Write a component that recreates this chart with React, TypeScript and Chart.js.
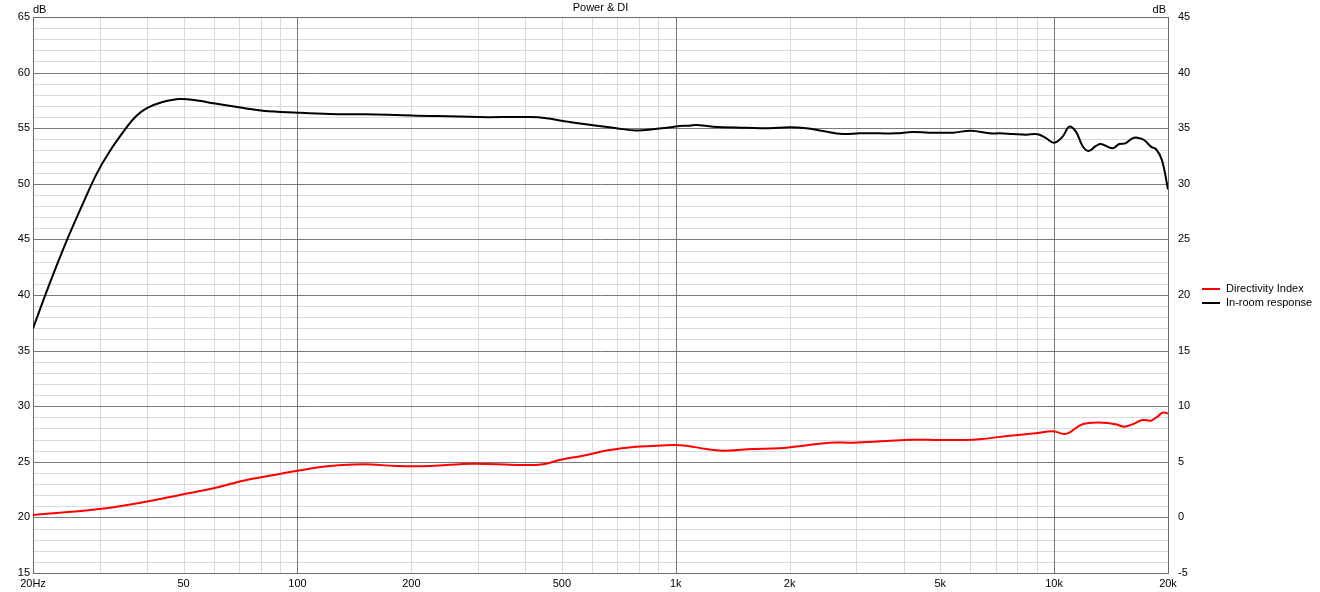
import React, { useEffect, useRef } from 'react';
import { Chart, registerables } from 'chart.js';

Chart.register(...registerables);

// In-room response (left axis, dB)
const irFreq = [20, 22, 24.6, 27, 29.5, 32, 35.4, 37.5, 40, 44, 48.9, 55, 60, 70, 81, 100, 122, 150, 200, 300, 411, 455, 503, 592, 696, 786, 870, 982, 1023, 1088, 1132, 1254, 1535, 1768, 1998, 2211, 2446, 2762, 3058, 3454, 3822, 4228, 4678, 5394, 6032, 6744, 7196, 7768, 8430, 9040, 9520, 10000, 10530, 10970, 11420, 11890, 12330, 12900, 13300, 14270, 14860, 15420, 16110, 16610, 17300, 18020, 18580, 19270, 20000];
const irVal = [37.0, 40.8, 44.95, 48.1, 50.94, 53.0, 55.1, 56.1, 56.8, 57.35, 57.63, 57.47, 57.24, 56.88, 56.58, 56.4, 56.28, 56.25, 56.15, 56.0, 56.0, 55.9, 55.65, 55.3, 55.0, 54.8, 54.9, 55.1, 55.2, 55.22, 55.29, 55.14, 55.05, 55.0, 55.08, 55.0, 54.75, 54.48, 54.54, 54.54, 54.54, 54.66, 54.6, 54.6, 54.78, 54.54, 54.54, 54.48, 54.42, 54.45, 54.1, 53.7, 54.24, 55.14, 54.69, 53.4, 52.95, 53.4, 53.58, 53.19, 53.58, 53.64, 54.09, 54.15, 53.94, 53.34, 53.13, 52.14, 49.5];

// Directivity Index (right axis, dB)
const diFreq = [20, 29.5, 40, 48.9, 60, 73.4, 89.8, 100, 122, 149, 183, 224, 291, 387, 446, 493, 568, 668, 786, 870, 982, 1066, 1204, 1360, 1598, 1880, 2166, 2548, 2936, 3596, 4228, 4974, 5618, 6345, 7612, 8957, 9908, 10637, 10970, 11890, 13430, 14570, 15320, 16110, 17120, 18020, 18770, 19340, 20000];
const diVal = [0.22, 0.73, 1.42, 2.02, 2.62, 3.37, 3.9, 4.2, 4.62, 4.78, 4.62, 4.62, 4.83, 4.71, 4.78, 5.17, 5.55, 6.06, 6.36, 6.42, 6.51, 6.45, 6.15, 6.0, 6.15, 6.21, 6.45, 6.72, 6.72, 6.87, 6.99, 6.96, 6.96, 7.02, 7.35, 7.56, 7.74, 7.5, 7.62, 8.37, 8.52, 8.37, 8.16, 8.37, 8.76, 8.7, 9.06, 9.42, 9.36];

const xGridTicks = [20, 30, 40, 50, 60, 70, 80, 90, 100, 200, 300, 400, 500, 600, 700, 800, 900, 1000, 2000, 3000, 4000, 5000, 6000, 7000, 8000, 9000, 10000, 20000];
const xTickLabels: Record<number, string> = { 20: '20Hz', 50: '50', 100: '100', 200: '200', 500: '500', 1000: '1k', 2000: '2k', 5000: '5k', 10000: '10k', 20000: '20k' };
const xMajor = [100, 1000, 10000];

const leftMin = 15;
const leftMax = 65;
const rightMin = -5;
const rightMax = 45;

const seriesNames = ['Directivity Index', 'In-room response'];
const seriesColors = ['#ff0000', '#000000'];
const titleText = 'Power & DI';
const unitText = 'dB';

const FONT = '"Liberation Sans", Arial, sans-serif';
const FS = 11;
const MAJOR = '#7a7a7a';
const MINOR = '#dadada';
const BORDER = '#6a6a6a';

const gridPlugin = {
  id: 'gridPlugin',
  beforeDatasetsDraw(chart: any) {
    const ctx = chart.ctx;
    const a = chart.chartArea;
    const xs = chart.scales.x;
    const ys = chart.scales.y;
    const px = (v: number) => Math.round(v) + 0.5;
    ctx.save();
    ctx.lineWidth = 1;
    const hLine = (v: number, color: string) => {
      const y = px(ys.getPixelForValue(v));
      ctx.strokeStyle = color;
      ctx.beginPath();
      ctx.moveTo(a.left, y);
      ctx.lineTo(a.right, y);
      ctx.stroke();
    };
    const vLine = (v: number, color: string) => {
      const x = px(xs.getPixelForValue(v));
      ctx.strokeStyle = color;
      ctx.beginPath();
      ctx.moveTo(x, a.top);
      ctx.lineTo(x, a.bottom);
      ctx.stroke();
    };
    for (let v = leftMin; v <= leftMax; v++) if (v % 5 !== 0) hLine(v, MINOR);
    xGridTicks.forEach((v) => { if (!xMajor.includes(v)) vLine(v, MINOR); });
    for (let v = leftMin; v <= leftMax; v += 5) hLine(v, MAJOR);
    xMajor.forEach((v) => vLine(v, MAJOR));
    ctx.strokeStyle = BORDER;
    ctx.strokeRect(px(a.left), px(a.top), Math.round(a.right) - Math.round(a.left), Math.round(a.bottom) - Math.round(a.top));
    ctx.restore();
  },
};

const overlay = {
  id: 'overlay',
  afterDraw(chart: any) {
    const ctx = chart.ctx;
    const a = chart.chartArea;
    ctx.save();
    ctx.font = `${FS}px ${FONT}`;
    ctx.fillStyle = '#000';
    ctx.textBaseline = 'middle';
    ctx.textAlign = 'center';
    ctx.fillText(titleText, (a.left + a.right) / 2, 8);
    ctx.textAlign = 'left';
    ctx.fillText(unitText, a.left, 10);
    ctx.textAlign = 'right';
    ctx.fillText(unitText, a.right - 2, 10);
    const lx = a.right + 34;
    seriesNames.forEach((name, i) => {
      const y = 289 + i * 14;
      ctx.strokeStyle = seriesColors[i];
      ctx.lineWidth = 2;
      ctx.beginPath();
      ctx.moveTo(lx, y);
      ctx.lineTo(lx + 18, y);
      ctx.stroke();
      ctx.textAlign = 'left';
      ctx.fillStyle = '#000';
      ctx.fillText(name, lx + 24, y);
    });
    ctx.restore();
  },
};

export default function App() {
  const ref = useRef<HTMLCanvasElement>(null);
  useEffect(() => {
    const font = { family: FONT, size: FS };
    const chart = new Chart(ref.current!, {
      type: 'line',
      data: {
        datasets: [
          {
            label: seriesNames[0],
            data: diFreq.map((f, i) => ({ x: f, y: diVal[i] })),
            borderColor: seriesColors[0],
            backgroundColor: seriesColors[0],
            borderWidth: 2,
            pointRadius: 0,
            tension: 0.4,
            yAxisID: 'y2',
          },
          {
            label: seriesNames[1],
            data: irFreq.map((f, i) => ({ x: f, y: irVal[i] })),
            borderColor: seriesColors[1],
            backgroundColor: seriesColors[1],
            borderWidth: 2,
            pointRadius: 0,
            tension: 0.4,
            yAxisID: 'y',
          },
        ],
      },
      options: {
        animation: false,
        responsive: false,
        maintainAspectRatio: false,
        layout: { padding: { top: 17, left: 0, right: 0, bottom: 0 } },
        plugins: { legend: { display: false }, tooltip: { enabled: false } },
        scales: {
          x: {
            type: 'logarithmic',
            min: 20,
            max: 20000,
            afterBuildTicks: (s: any) => {
              s.ticks = xGridTicks.map((v) => ({ value: v }));
            },
            afterFit: (s: any) => {
              s.height = 19;
            },
            ticks: {
              autoSkip: false,
              maxRotation: 0,
              minRotation: 0,
              padding: 4,
              color: '#000',
              font,
              callback: (v: any) => xTickLabels[Number(v)] ?? '',
            },
            grid: { display: false, drawTicks: false },
            border: { display: false },
          },
          y: {
            type: 'linear',
            position: 'left',
            min: leftMin,
            max: leftMax,
            ticks: {
              stepSize: 1,
              autoSkip: false,
              padding: 3,
              color: '#000',
              font,
              callback: (v: any) => (Number(v) % 5 === 0 ? String(v) : ''),
            },
            afterFit: (s: any) => {
              s.width = 33;
            },
            grid: { display: false, drawTicks: false },
            border: { display: false },
          },
          y2: {
            type: 'linear',
            position: 'right',
            min: rightMin,
            max: rightMax,
            ticks: {
              stepSize: 5,
              padding: 10,
              color: '#000',
              font,
            },
            afterFit: (s: any) => {
              s.width = 152;
            },
            grid: { display: false, drawTicks: false },
            border: { display: false },
          },
        },
      },
      plugins: [gridPlugin, overlay],
    } as any);
    return () => chart.destroy();
  }, []);
  return (
    <div style={{ position: 'absolute', left: 0, top: 0, width: 1320, height: 592, background: '#fff' }}>
      <canvas ref={ref} width={1320} height={592} style={{ width: 1320, height: 592, display: 'block' }} />
    </div>
  );
}
